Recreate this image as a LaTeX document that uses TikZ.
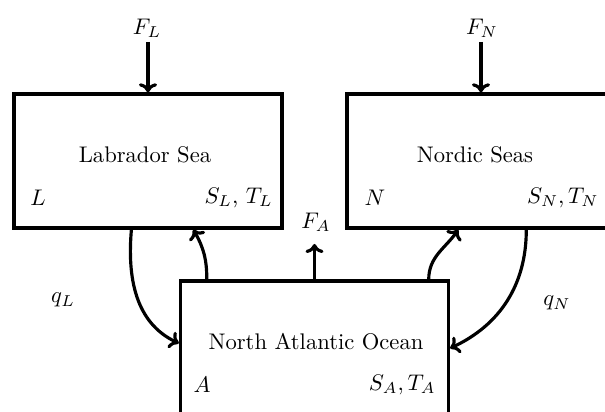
\documentclass[tikz,border=0pt]{standalone}
\usetikzlibrary{arrows.meta}
\begin{document}
\begin{tikzpicture}[x=0.4425pt,y=-0.4425pt,
  basin/.style={draw,line width=1.5pt,rectangle,minimum width=118.6pt,minimum height=59.3pt,inner sep=0pt},
  lbl/.style={inner sep=0pt},
  arr/.style={-{To[length=4pt,width=8pt]},line width=1.4pt},
]
\useasboundingbox (0,0) rectangle (605,412);
\clip (0,0) rectangle (605,412);
% boxes
\node[basin] (lab) at (148,161) {};
\node[basin] (nor) at (481,161) {};
\node[basin] (na) at (314.5,348) {};
% box texts
\node[lbl] (labt) at (145,155) {Labrador Sea};
\node[lbl] (nort) at (475,155) {Nordic Seas};
\node[lbl] (nat) at (316,342) {North Atlantic Ocean};
\node[lbl] (labL) at (38,198) {$L$};
\node[lbl] (norN) at (375,198) {$N$};
\node[lbl] (naA) at (202,385) {$A$};
\node[lbl,anchor=east] (labST) at (273,198) {$S_L$, $T_L$};
\node[lbl,anchor=east] (norST) at (599,198) {$S_N, T_N$};
\node[lbl,anchor=east] (naST) at (436,385) {$S_A, T_A$};
% forcing labels
\node[lbl] (FL) at (147,28) {$F_L$};
\node[lbl] (FN) at (482,28) {$F_N$};
\node[lbl] (FA) at (316,222) {$F_A$};
\node[lbl] (qL) at (63,300) {$q_L$};
\node[lbl] (qN) at (557,303) {$q_N$};
\coordinate (fl) at (148,42);
\coordinate (fn) at (481,42);
\coordinate (fa) at (314.5,244);
% forcing arrows
\draw[arr] (fl) -- (lab.north);
\draw[arr] (fn) -- (nor.north);
\draw[arr] (na.north) -- (fa);
% exchange arrows
\draw[arr] ([xshift=52.7pt]lab.south west) to[out=-95,in=155] ([yshift=-28.3pt]na.north west);
\draw[arr] ([xshift=12.4pt]na.north west) to[out=90,in=-60] ([xshift=80.1pt]lab.south west);
\draw[arr] ([xshift=110.6pt]na.north west) to[out=90,in=-125] ([xshift=50pt]nor.south west);
\draw[arr] ([xshift=80.1pt]nor.south west) to[out=-90,in=25] ([yshift=-30.5pt]na.north east);
\end{tikzpicture}
\end{document}
